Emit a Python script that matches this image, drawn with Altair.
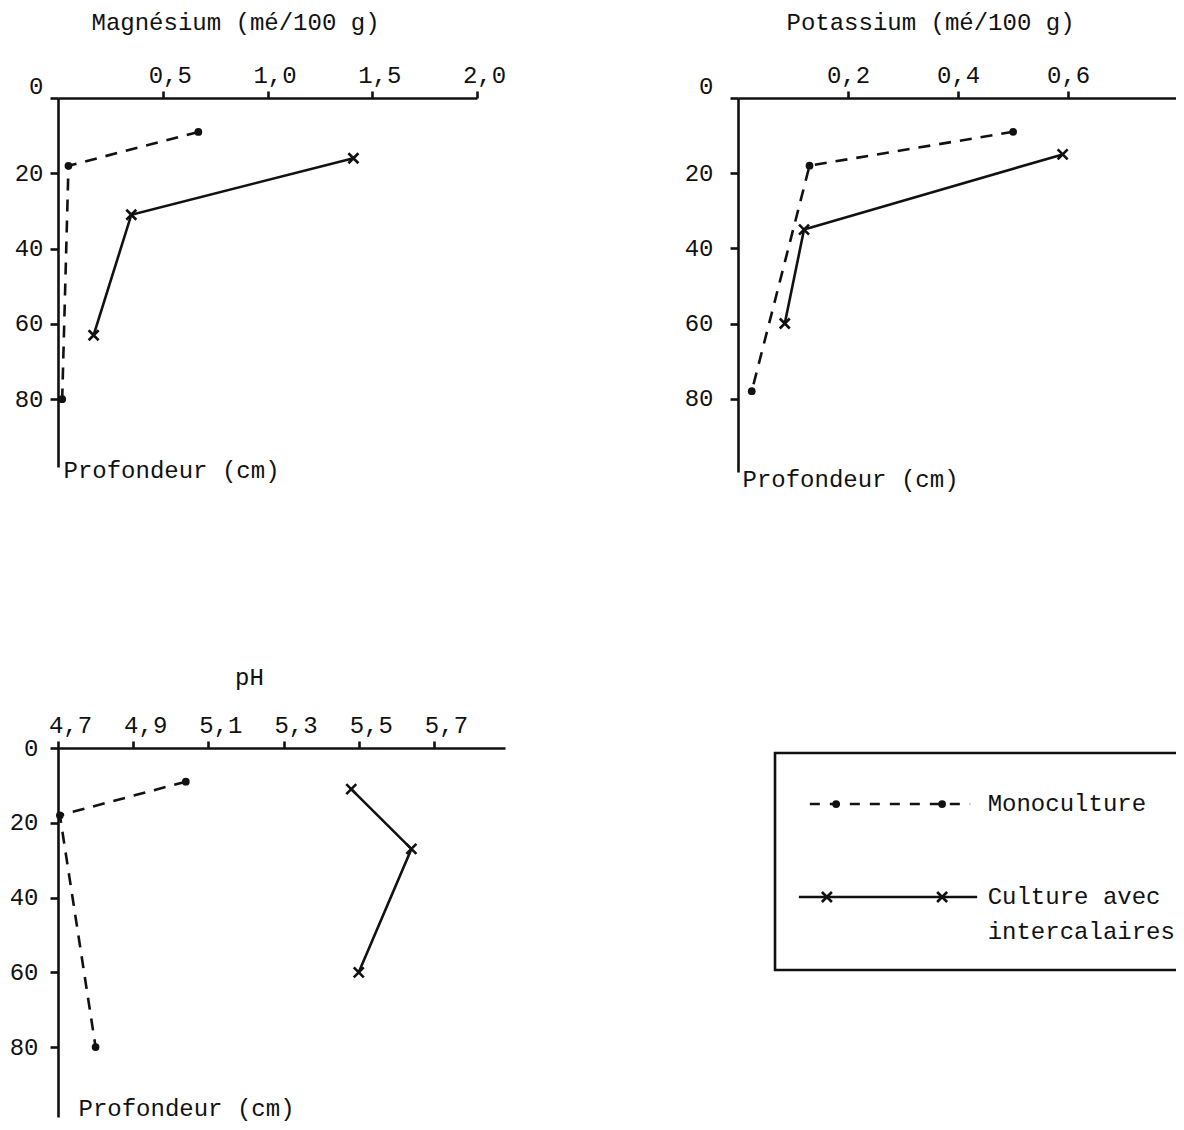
import altair as alt
import pandas as pd

# ---------------- data ----------------
# Magnésium (mé/100 g) vs depth (cm)
MG_MONO_X = [0.67, 0.05, 0.02]
MG_MONO_DEPTH = [9, 18, 80]
MG_CULT_X = [1.41, 0.35, 0.17]
MG_CULT_DEPTH = [16, 31, 63]

# Potassium (mé/100 g) vs depth (cm)
K_MONO_X = [0.50, 0.13, 0.025]
K_MONO_DEPTH = [9, 18, 78]
K_CULT_X = [0.59, 0.12, 0.085]
K_CULT_DEPTH = [15, 35, 60]

# pH vs depth (cm)
PH_MONO_X = [5.04, 4.705, 4.80]
PH_MONO_DEPTH = [9, 18, 80]
PH_CULT_X = [5.48, 5.64, 5.50]
PH_CULT_DEPTH = [11, 27, 60]

MG_TICKS = [0.5, 1.0, 1.5, 2.0]
K_TICKS = [0.2, 0.4, 0.6]
PH_TICKS = [4.7, 4.9, 5.1, 5.3, 5.5, 5.7]
DEPTH_TICKS = [0, 20, 40, 60, 80]

SERIES = ["Monoculture", "Culture avec intercalaires"]
LEGEND_TEXT = ["Monoculture", "Culture avec", "intercalaires"]

# ---------------- styles / layout ----------------
FONT = "Liberation Mono"
FW = "normal"
INK = "#111111"
FS = 24
LW = 2.6
X_SHAPE = "M-1,-1L1,1M-1,1L1,-1"
DOT = 60
XSZ = 100

# legend layout in the legend view's unit coordinates (0..1)
LEG = dict(
    box=(0.0845, 1.2, 0.0136, 0.6016),
    mono_line=(0.164, 0.530, 0.1518),
    mono_marks=(0.224, 0.466),
    cult_line=(0.139, 0.546, 0.4038),
    cult_marks=(0.203, 0.466),
    text_x=0.570,
    text_y=(0.1518, 0.4038, 0.4986),
)


def panel(mono_x, mono_d, cult_x, cult_d, xdom, ydom, w, h, xticks, title,
          title_xy, xlab_offset, ylab_pad, raise_zero, prof_xy):
    df = pd.DataFrame({
        "value": list(mono_x) + list(cult_x),
        "depth": list(mono_d) + list(cult_d),
        "series": [SERIES[0]] * len(mono_x) + [SERIES[1]] * len(cult_x),
    })
    x_axis = alt.Axis(
        orient="top", values=xticks,
        labelExpr="replace(format(datum.value, '.1f'), '.', ',')",
        title=title, titleX=title_xy[0], titleY=title_xy[1],
        titleAlign="center", titleBaseline="middle",
        labelOffset=xlab_offset, labelFlush=False, labelOverlap=False,
        labelPadding=4, tickSize=7,
    )
    if raise_zero:
        lb = {"condition": {"test": "datum.value === 0", "value": "bottom"}, "value": "middle"}
    else:
        lb = "middle"
    y_axis = alt.Axis(
        orient="left", values=DEPTH_TICKS, labelBaseline=lb,
        labelPadding=ylab_pad, tickSize=8, labelFlush=False, labelOverlap=False,
        title="Profondeur (cm)", titleAngle=0, titleAlign="left",
        titleBaseline="middle", titleX=prof_xy[0], titleY=prof_xy[1],
    )
    base = alt.Chart(df).encode(
        x=alt.X("value:Q", scale=alt.Scale(domain=xdom, nice=False, zero=False), axis=x_axis),
        y=alt.Y("depth:Q", scale=alt.Scale(domain=ydom, nice=False, reverse=True), axis=y_axis),
        order=alt.Order("depth:Q"),
    )
    mono = base.transform_filter(alt.datum.series == SERIES[0])
    cult = base.transform_filter(alt.datum.series == SERIES[1])
    layers = [
        mono.mark_line(color=INK, strokeWidth=LW, strokeDash=[12, 9]),
        cult.mark_line(color=INK, strokeWidth=LW),
        mono.mark_point(shape="circle", filled=True, size=DOT, color=INK, opacity=1),
        cult.mark_point(shape=X_SHAPE, filled=False, size=XSZ, color=INK, strokeWidth=LW, opacity=1),
    ]
    return alt.layer(*layers).properties(width=w, height=h)


mg = panel(MG_MONO_X, MG_MONO_DEPTH, MG_CULT_X, MG_CULT_DEPTH,
           [0, 2.0], [0, 98], 419, 369, MG_TICKS, "Magnésium (mé/100 g)",
           (177, -76), 7, 7, True, (5, 372))
k = panel(K_MONO_X, K_MONO_DEPTH, K_CULT_X, K_CULT_DEPTH,
          [0, 0.796], [0, 99.5], 438, 374, K_TICKS, "Potassium (mé/100 g)",
          (192, -76), 0, 17, True, (4, 381))
ph = panel(PH_MONO_X, PH_MONO_DEPTH, PH_CULT_X, PH_CULT_DEPTH,
           [4.7, 5.889], [0, 98.7], 447, 369, PH_TICKS, "pH",
           (191, -71), 12, 12, False, (20, 360))

# ---------------- legend view ----------------
bx0, bx1, by0, by1 = LEG["box"]
box_df = pd.DataFrame({"x": [bx0], "x2": [bx1], "y": [by0], "y2": [by1]})
m0, m1, my = LEG["mono_line"]
c0, c1, cy = LEG["cult_line"]
line_df = pd.DataFrame({
    "x": [m0, m1, c0, c1],
    "y": [my, my, cy, cy],
    "series": [SERIES[0], SERIES[0], SERIES[1], SERIES[1]],
})
mark_df = pd.DataFrame({
    "x": list(LEG["mono_marks"]) + list(LEG["cult_marks"]),
    "y": [my, my, cy, cy],
    "series": [SERIES[0], SERIES[0], SERIES[1], SERIES[1]],
})
text_df = pd.DataFrame({"x": [LEG["text_x"]] * 3, "y": list(LEG["text_y"]), "label": LEGEND_TEXT})

lx = alt.Scale(domain=[0, 1], nice=False, zero=False)
ly = alt.Scale(domain=[0, 1], nice=False, zero=False, reverse=True)

box = alt.Chart(box_df).mark_rect(filled=False, stroke=INK, strokeWidth=LW, clip=True).encode(
    x=alt.X("x:Q", scale=lx, axis=None), x2="x2:Q",
    y=alt.Y("y:Q", scale=ly, axis=None), y2="y2:Q")
lbase = alt.Chart(line_df).encode(x=alt.X("x:Q", scale=lx, axis=None), y=alt.Y("y:Q", scale=ly, axis=None))
leg_mono_line = lbase.transform_filter(alt.datum.series == SERIES[0]).mark_line(
    color=INK, strokeWidth=LW, strokeDash=[10, 10])
leg_cult_line = lbase.transform_filter(alt.datum.series == SERIES[1]).mark_line(
    color=INK, strokeWidth=LW)
mbase = alt.Chart(mark_df).encode(x=alt.X("x:Q", scale=lx, axis=None), y=alt.Y("y:Q", scale=ly, axis=None))
leg_mono_pts = mbase.transform_filter(alt.datum.series == SERIES[0]).mark_point(
    shape="circle", filled=True, size=DOT, color=INK, opacity=1)
leg_cult_pts = mbase.transform_filter(alt.datum.series == SERIES[1]).mark_point(
    shape=X_SHAPE, filled=False, size=XSZ, color=INK, strokeWidth=LW, opacity=1)
leg_text = alt.Chart(text_df).mark_text(
    align="left", baseline="middle", font=FONT, fontSize=FS, fontWeight=FW, color=INK
).encode(x=alt.X("x:Q", scale=lx, axis=None), y=alt.Y("y:Q", scale=ly, axis=None), text="label:N")

legend = alt.layer(box, leg_mono_line, leg_cult_line, leg_mono_pts, leg_cult_pts, leg_text).properties(
    width=438, height=369)

chart = alt.concat(
    mg, k, ph, legend, columns=2, spacing={"row": 276, "column": 233},
    bounds="flush", align="all",
).properties(
    padding={"left": 1, "top": 2, "right": 0, "bottom": 5},
    background="white",
).configure_view(stroke=None).configure_axis(
    labelFont=FONT, labelFontSize=FS, labelFontWeight=FW, labelColor=INK,
    titleFont=FONT, titleFontSize=FS, titleFontWeight=FW, titleColor=INK,
    domainColor=INK, domainWidth=LW, tickColor=INK, tickWidth=LW, grid=False,
)

chart.save("out.html", embed_options={"renderer": "svg", "actions": False})
